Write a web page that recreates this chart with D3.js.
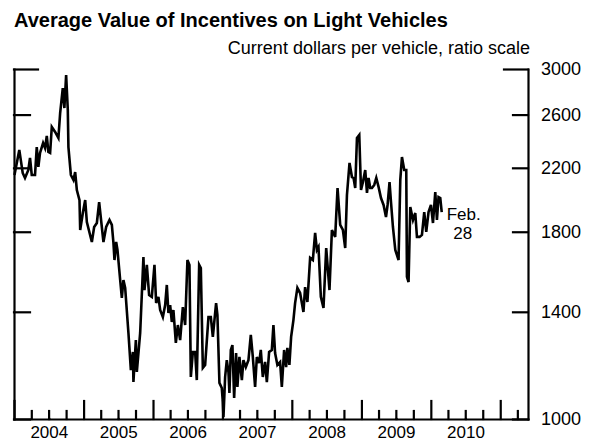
<!DOCTYPE html>
<html><head><meta charset="utf-8">
<script src="https://cdn.jsdelivr.net/npm/d3@7"></script>
<style>
body{margin:0;background:#fff}
text{font-family:"Liberation Sans",Arial,Helvetica,sans-serif;fill:#000}
</style>
</head><body>
<svg id="chart" width="595" height="442"></svg>
<script>
const dates = [
2004.007,2004.076,2004.125,2004.158,2004.206,2004.230,2004.255,2004.302,2004.327,2004.350,
2004.374,2004.418,2004.446,2004.471,2004.494,2004.519,2004.543,2004.591,2004.638,2004.663,
2004.701,2004.724,2004.749,2004.773,2004.782,2004.817,2004.854,2004.879,2004.903,2004.941,
2004.951,2004.989,2005.023,2005.047,2005.119,2005.152,2005.191,2005.224,2005.286,2005.325,
2005.373,2005.407,2005.430,2005.445,2005.469,2005.488,2005.527,2005.551,2005.574,2005.599,
2005.646,2005.681,2005.710,2005.718,2005.753,2005.767,2005.815,2005.862,2005.877,2005.911,
2005.944,2005.983,2006.021,2006.045,2006.078,2006.103,2006.142,2006.175,2006.199,2006.222,
2006.247,2006.271,2006.294,2006.329,2006.358,2006.391,2006.430,2006.463,2006.496,2006.525,
2006.545,2006.574,2006.607,2006.631,2006.665,2006.689,2006.718,2006.751,2006.799,2006.833,
2006.862,2006.909,2006.928,2006.957,2006.991,2007.006,2007.015,2007.039,2007.063,2007.087,
2007.101,2007.121,2007.144,2007.169,2007.197,2007.216,2007.245,2007.280,2007.303,2007.337,
2007.375,2007.409,2007.438,2007.471,2007.496,2007.529,2007.553,2007.582,2007.615,2007.640,
2007.673,2007.712,2007.735,2007.759,2007.792,2007.831,2007.856,2007.889,2007.918,2007.936,
2007.965,2007.990,2008.023,2008.047,2008.080,2008.119,2008.167,2008.191,2008.224,2008.263,
2008.302,2008.335,2008.360,2008.383,2008.417,2008.455,2008.494,2008.541,2008.576,2008.623,
2008.657,2008.695,2008.734,2008.767,2008.792,2008.829,2008.864,2008.887,2008.911,2008.936,
2008.969,2008.994,2009.022,2009.055,2009.080,2009.103,2009.127,2009.152,2009.185,2009.214,
2009.247,2009.282,2009.319,2009.354,2009.377,2009.405,2009.426,2009.454,2009.488,2009.535,
2009.560,2009.584,2009.617,2009.646,2009.656,2009.679,2009.704,2009.743,2009.776,2009.800,
2009.838,2009.872,2009.905,2009.934,2009.967,2010.002,2010.031,2010.064,2010.088,2010.111,
2010.136,2010.157
];
// Average incentive, current dollars per vehicle
const values = [
2151,2327,2165,2131,2185,2269,2151,2151,2348,2206,
2305,2378,2341,2431,2312,2305,2501,2462,2416,2613,
2826,2654,2944,2638,2348,2151,2118,2171,2052,1988,
1810,1909,1988,1856,1743,1827,1850,1976,1743,1827,
1868,1839,1738,1647,1743,1700,1547,1462,1547,1509,
1310,1166,1234,1123,1281,1159,1310,1663,1499,1622,
1476,1467,1622,1439,1467,1408,1377,1430,1523,1395,
1430,1356,1408,1270,1343,1281,1421,1343,1647,1622,
1141,1234,1234,1130,1622,1606,1174,1185,1377,1377,
1294,1439,1386,1120,1102,1055,1006,1141,1203,1159,
1085,1242,1261,1068,1230,1106,1215,1130,1203,1177,
1203,1302,1215,1106,1215,1192,1242,1141,1196,1123,
1234,1242,1343,1230,1185,1196,1106,1242,1177,1250,
1185,1294,1364,1439,1509,1485,1399,1513,1444,1658,
1647,1793,1700,1716,1467,1417,1710,1499,1810,1771,
2065,1839,1810,1710,2020,2234,2137,2131,2065,2416,
2439,2052,2104,2185,2033,2131,2065,2065,2085,2131,
2072,2001,1958,1885,1958,2104,1976,1827,1700,1647,
2118,2276,2185,2185,1562,1537,1945,1868,1909,1771,
1771,1782,1915,1799,1915,1958,1850,2039,1868,2007,
2001,1915
];
const yTicks = [1000, 1400, 1800, 2200, 2600, 3000];
const yearLabels = [2004, 2005, 2006, 2007, 2008, 2009, 2010];
const titleText = "Average Value of Incentives on Light Vehicles";
const subtitleText = "Current dollars per vehicle, ratio scale";
const noteLines = ["Feb.", "28"];

function toDate(t) {
  const yr = Math.floor(t);
  const s = Date.UTC(yr, 0, 1), e = Date.UTC(yr + 1, 0, 1);
  return new Date(s + (t - yr) * (e - s));
}
const data = dates.map((d, i) => ({date: toDate(d), value: values[i]}));

const svg = d3.select("#chart");
const L = 14, R = 528, T = 69, B = 419;
const x = d3.scaleUtc().domain([new Date(Date.UTC(2004,0,1)), new Date(Date.UTC(2011,4,27))]).range([L, R]);
const y = d3.scaleLog().domain([1000, 3000]).range([B, T]);

// Title and subtitle
svg.append("text").attr("x", 14).attr("y", 27)
  .style("font-size", "20px").style("font-weight", "bold").text(titleText);
svg.append("text").attr("x", 530).attr("y", 54).attr("text-anchor", "end")
  .style("font-size", "18px").text(subtitleText);

// Bottom axis: quarterly ticks, long at year starts
const quarters = d3.utcMonth.every(3).range(new Date(Date.UTC(2004,0,1)), new Date(Date.UTC(2011,4,27)));
const gx = svg.append("g").attr("transform", `translate(0,${B})`)
  .call(d3.axisBottom(x).tickValues(quarters).tickSizeInner(-8).tickSizeOuter(0).tickFormat(""));
gx.selectAll(".tick line").attr("y2", d => d.getUTCMonth() === 0 ? -18 : -8);

// Year labels centered in each year
const gl = svg.append("g").attr("transform", `translate(0,${B})`)
  .call(d3.axisBottom(x)
    .tickValues(yearLabels.map(yr => new Date(Date.UTC(yr, 6, 2))))
    .tickSize(0).tickFormat(d3.utcFormat("%Y")));
gl.select(".domain").remove();
gl.selectAll("text").style("font-size", "17px").attr("y", 19).attr("dy", 0);

// Left axis (ticks pointing inward)
const gy1 = svg.append("g").attr("transform", `translate(${L},0)`)
  .call(d3.axisRight(y).tickValues(yTicks).tickSizeInner(16).tickSizeOuter(0).tickFormat(""));
gy1.selectAll(".tick line").attr("x2", d => d === 3000 ? 24 : 16);

// Right axis with labels
const gy2 = svg.append("g").attr("transform", `translate(${R},0)`)
  .call(d3.axisRight(y).tickValues(yTicks).tickSizeInner(-15).tickSizeOuter(0).tickPadding(13).tickFormat(d3.format("d")));
gy2.selectAll(".tick line").attr("x2", d => d === 3000 ? -24 : -15);
gy2.selectAll("text").style("font-size", "18px");

svg.selectAll(".domain, .tick line").attr("stroke", "#000").attr("stroke-width", 2.2).attr("stroke-linecap", "square");

// Data line
svg.append("path").datum(data)
  .attr("fill", "none").attr("stroke", "#000").attr("stroke-width", 2.6)
  .attr("stroke-linejoin", "miter").attr("stroke-miterlimit", 4)
  .attr("d", d3.line().x(d => x(d.date)).y(d => y(d.value)));

// Annotation
const last = data[data.length - 1];
const ax = x(last.date) + 21, ay = y(last.value);
svg.append("text").attr("x", ax + 1).attr("y", ay + 8).attr("text-anchor", "middle")
  .style("font-size", "17px").text(noteLines[0]);
svg.append("text").attr("x", ax).attr("y", ay + 27).attr("text-anchor", "middle")
  .style("font-size", "17px").text(noteLines[1]);
</script>
</body></html>
